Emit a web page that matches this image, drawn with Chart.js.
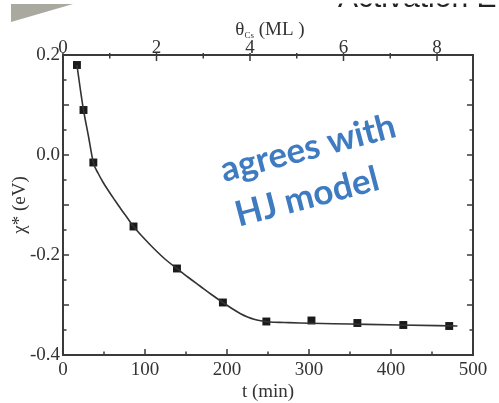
<!DOCTYPE html>
<html>
<head>
<meta charset="utf-8">
<script src="https://cdn.jsdelivr.net/npm/chart.js@4.4.0/dist/chart.umd.min.js"></script>
<style>
  html, body { margin: 0; padding: 0; background: #fff; }
  #wrap { width: 499px; height: 403px; }
</style>
</head>
<body>
<div id="wrap"><canvas id="chart" width="499" height="403"></canvas></div>
<script>
// measured points: time (min) vs chi* (eV)
var timeMin = [17, 25, 37, 86, 139, 195, 248, 303, 359, 415, 471];
var chiEv = [0.180, 0.090, -0.015, -0.143, -0.227, -0.295, -0.333, -0.331, -0.336, -0.340, -0.342];

// HJ model fit curve
var fitT = [17, 21, 25, 31, 37, 43, 49, 56, 63, 71, 79, 86, 99, 112, 125, 139, 153, 167, 181, 195, 206, 216, 225, 234, 243, 252, 270, 289, 350, 411, 481];
var fitChi = [0.180, 0.133, 0.090, 0.038, -0.015, -0.037, -0.055, -0.073, -0.090, -0.109, -0.127, -0.143, -0.167, -0.189, -0.209, -0.227, -0.245, -0.262, -0.279, -0.295, -0.307, -0.317, -0.324, -0.329, -0.332, -0.334, -0.335, -0.336, -0.338, -0.340, -0.342];

// axes
var tRange = [0, 500];
var thetaRange = [0, 8.77];
var chiRange = [-0.4, 0.2];

var axisColor = "#3a3a3a";
var serif = "'Liberation Serif', 'DejaVu Serif', serif";

function toXY(xs, ys) {
    var out = [];
    for (var i = 0; i < xs.length; i++) {
        out.push({x: xs[i], y: ys[i]});
    }
    return out;
}

// inward ticks on all four sides + annotations
var decorPlugin = {
    id: 'decor',
    afterDraw: function(chart) {
        var ctx = chart.ctx;
        var a = chart.chartArea;
        var sx = chart.scales.x, sx2 = chart.scales.x2, sy = chart.scales.y;
        var v, p, len;

        ctx.save();
        ctx.strokeStyle = axisColor;
        ctx.lineWidth = 1.5;
        ctx.beginPath();
        for (v = 0; v <= 500; v += 50) {
            p = sx.getPixelForValue(v);
            len = (v % 100 === 0) ? 6 : 3.5;
            ctx.moveTo(p, a.bottom); ctx.lineTo(p, a.bottom - len);
        }
        for (v = 0; v <= 8; v += 1) {
            p = sx2.getPixelForValue(v);
            len = (v % 2 === 0) ? 6 : 3.5;
            ctx.moveTo(p, a.top - 2); ctx.lineTo(p, a.top + len);
        }
        for (var k = -8; k <= 4; k++) {
            p = sy.getPixelForValue(k * 0.05);
            len = (k % 2 === 0) ? 6 : 3.5;
            ctx.moveTo(a.left, p); ctx.lineTo(a.left + len, p);
            ctx.moveTo(a.right, p); ctx.lineTo(a.right - len, p);
        }
        ctx.stroke();

        // top axis title with subscript
        ctx.fillStyle = "#333";
        ctx.textBaseline = 'alphabetic';
        ctx.textAlign = 'left';
        var cx = (a.left + a.right) / 2;
        ctx.font = "19px " + serif;
        var w1 = ctx.measureText("\u03b8").width;
        ctx.font = "9px " + serif;
        var w2 = ctx.measureText("Cs").width;
        ctx.font = "19px " + serif;
        var w3 = ctx.measureText(" (ML )").width;
        var x0 = cx - (w1 + w2 + w3) / 2 + 2;
        ctx.fillText("\u03b8", x0, 35);
        ctx.font = "9px " + serif;
        ctx.fillText("Cs", x0 + w1, 38);
        ctx.font = "19px " + serif;
        ctx.fillText(" (ML )", x0 + w1 + w2, 35);

        // slide leftovers at the very top: cut-off heading, only its foot shows
        ctx.fillStyle = "#222";
        ctx.font = "30px 'Liberation Sans', sans-serif";
        ctx.fillText("Activation E", 338, 6.5);
        ctx.fillStyle = "#fff";
        ctx.fillRect(320, 0, 179, 3.5);
        ctx.fillStyle = "#a9a99f";
        ctx.beginPath();
        ctx.moveTo(11, 4); ctx.lineTo(73, 4); ctx.lineTo(11, 22);
        ctx.closePath();
        ctx.fill();

        // blue annotation
        ctx.translate(224, 182);
        ctx.rotate(-14.7 * Math.PI / 180);
        ctx.fillStyle = "#3f7bc1";
        ctx.font = "bold 35px Lato, 'Open Sans', sans-serif";
        ctx.fillText("agrees with", 0, 0);
        ctx.fillText("HJ model", 3, 47);
        ctx.restore();
    }
};

var config = {
    type: 'line',
    data: {
        datasets: [
            {
                label: 'fit',
                data: toXY(fitT, fitChi),
                borderColor: "#333",
                borderWidth: 1.6,
                pointRadius: 0,
                fill: false,
                cubicInterpolationMode: 'monotone',
                xAxisID: 'x',
                yAxisID: 'y'
            },
            {
                label: 'data',
                data: toXY(timeMin, chiEv),
                showLine: false,
                pointStyle: 'rect',
                pointRadius: 5.6,
                pointBackgroundColor: "#1a1a1a",
                pointBorderColor: "#1a1a1a",
                pointBorderWidth: 0,
                xAxisID: 'x',
                yAxisID: 'y'
            }
        ]
    },
    options: {
        responsive: false,
        animation: false,
        devicePixelRatio: 1,
        layout: { padding: 0 },
        plugins: {
            legend: { display: false },
            tooltip: { enabled: false }
        },
        scales: {
            x: {
                type: 'linear',
                position: 'bottom',
                min: tRange[0],
                max: tRange[1],
                afterFit: function(s) { s.height = 48; },
                grid: { display: false, drawTicks: false },
                border: { display: true, color: axisColor, width: 2 },
                ticks: {
                    stepSize: 100,
                    padding: 4,
                    color: "#333",
                    font: { family: serif, size: 19 },
                    maxRotation: 0
                },
                title: {
                    display: true,
                    text: "t (min)",
                    color: "#333",
                    font: { family: serif, size: 19 },
                    padding: { top: 0, bottom: 0 }
                }
            },
            x2: {
                type: 'linear',
                position: 'top',
                min: thetaRange[0],
                max: thetaRange[1],
                afterFit: function(s) { s.height = 55; },
                grid: { display: false, drawTicks: false },
                border: { display: true, color: axisColor, width: 2 },
                ticks: {
                    stepSize: 2,
                    includeBounds: false,
                    padding: -4,
                    color: "#333",
                    font: { family: serif, size: 19 },
                    maxRotation: 0
                }
            },
            y: {
                type: 'linear',
                position: 'left',
                min: chiRange[0],
                max: chiRange[1],
                afterFit: function(s) { s.width = 63; },
                grid: { display: false, drawTicks: false },
                border: { display: true, color: axisColor, width: 2 },
                ticks: {
                    stepSize: 0.2,
                    padding: 3,
                    color: "#333",
                    font: { family: serif, size: 19 },
                    callback: function(v) { return (Math.abs(v) < 1e-9 ? 0 : v).toFixed(1); }
                },
                title: {
                    display: true,
                    text: "\u03c7* (eV)",
                    color: "#333",
                    font: { family: serif, size: 19 },
                    padding: { top: 9, bottom: 0 }
                }
            },
            y2: {
                type: 'linear',
                position: 'right',
                min: chiRange[0],
                max: chiRange[1],
                afterFit: function(s) { s.width = 26; },
                grid: { display: false, drawTicks: false },
                border: { display: true, color: axisColor, width: 2 },
                ticks: { display: false }
            }
        }
    },
    plugins: [decorPlugin]
};

var ctx = document.getElementById("chart").getContext("2d");
var chart = new Chart(ctx, config);
</script>
</body>
</html>
